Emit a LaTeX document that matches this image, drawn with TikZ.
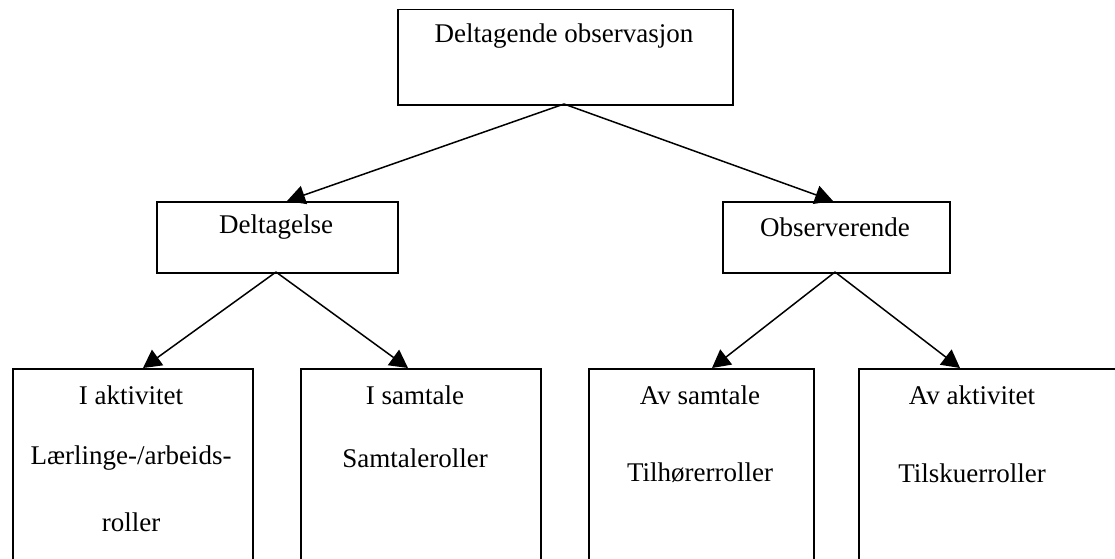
\documentclass[tikz,border=0pt]{standalone}
\usepackage{fontspec}
\setmainfont{Liberation Serif}
\usetikzlibrary{arrows.meta}
\begin{document}
\begin{tikzpicture}[x=1pt,y=-1pt,
  box/.style={draw, line width=1.6pt, inner sep=0pt, anchor=north west},
  lbl/.style={inner sep=0pt, font=\fontsize{27}{32}\selectfont},
  con/.style={line width=1.5pt, -{Triangle[length=18pt,width=19pt]}}]
\useasboundingbox (0,0) rectangle (1115,558);
\clip (0,0) rectangle (1115,558);
\node[box, minimum width=335, minimum height=95.5] (top) at (397,8.5) {};
\node[box, minimum width=241, minimum height=71] (del) at (156,201) {};
\node[box, minimum width=227, minimum height=71] (obs) at (722,201) {};
\node[box, minimum width=240, minimum height=230] (b1) at (12,368) {};
\node[box, minimum width=240, minimum height=230] (b2) at (300,368) {};
\node[box, minimum width=225, minimum height=230] (b3) at (588,368) {};
\node[box, minimum width=280, minimum height=230] (b4) at (858,368) {};

\node[lbl] (ttop) at (564,36) {Deltagende observasjon};
\node[lbl] (tdel) at (276,227) {Deltagelse};
\node[lbl] (tobs) at (835,227) {Observerende};
\node[lbl] (t1a) at (131,395) {I aktivitet};
\node[lbl] (t1b) at (131,458) {Lærlinge-/arbeids-};
\node[lbl] (t1c) at (131,522) {roller};
\node[lbl] (t2a) at (415,395) {I samtale};
\node[lbl] (t2b) at (415,458) {Samtaleroller};
\node[lbl] (t3a) at (700,395) {Av samtale};
\node[lbl] (t3b) at (700,473) {Tilhørerroller};
\node[lbl] (t4a) at (972,395) {Av aktivitet};
\node[lbl] (t4b) at (972,473) {Tilskuerroller};

\coordinate (ts) at (564,104);
\coordinate (ds) at (276,272);
\coordinate (os) at (835,272);
\coordinate (de) at (287,201);
\coordinate (oe) at (833,201);
\coordinate (e1) at (143,368);
\coordinate (e2) at (408,368);
\coordinate (e3) at (712,368);
\coordinate (e4) at (960,368);
\draw[con] (ts) -- (de);
\draw[con] (ts) -- (oe);
\draw[con] (ds) -- (e1);
\draw[con] (ds) -- (e2);
\draw[con] (os) -- (e3);
\draw[con] (os) -- (e4);
\end{tikzpicture}
\end{document}
